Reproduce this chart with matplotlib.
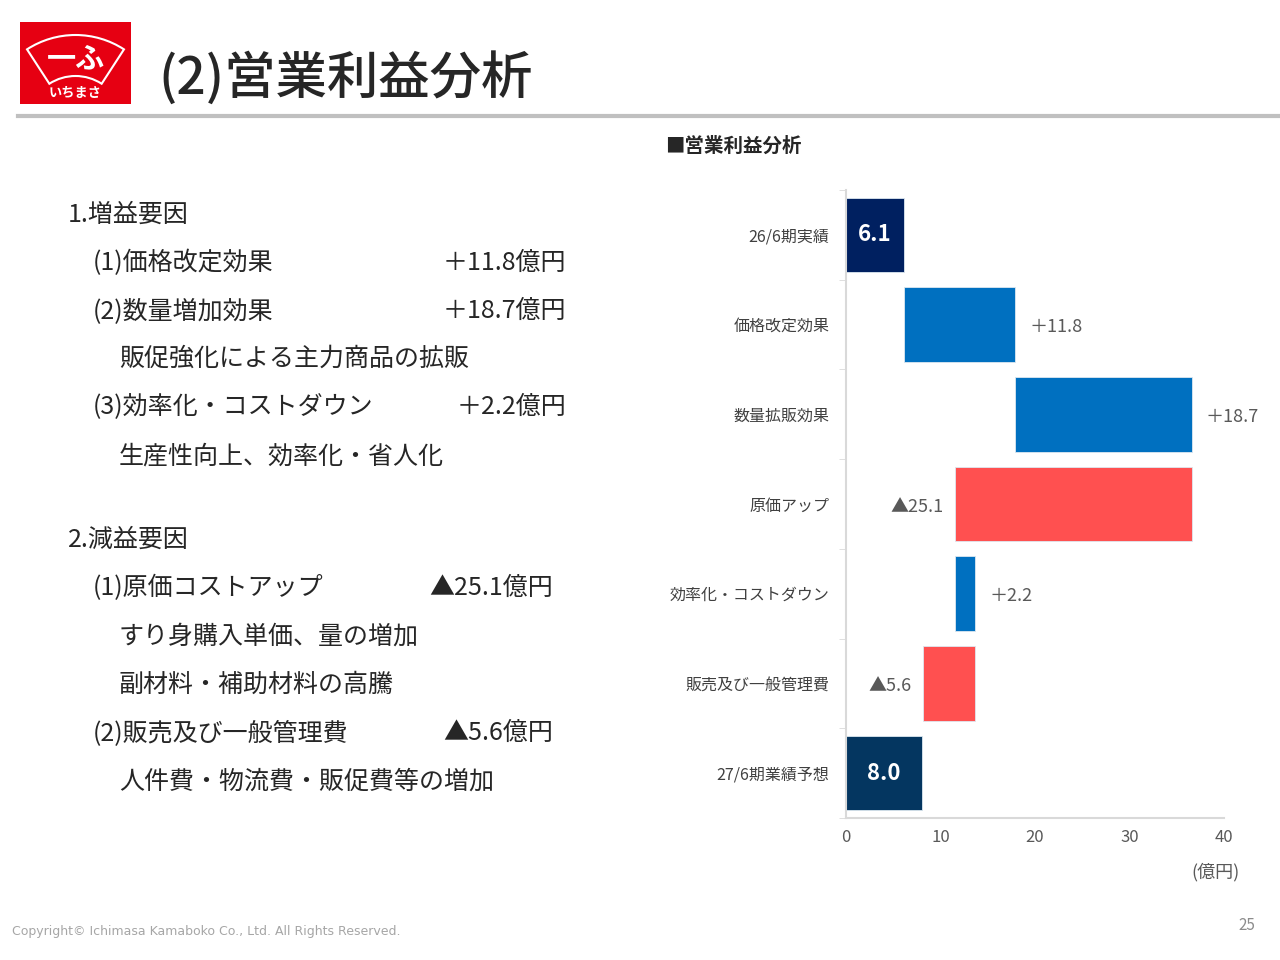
import numpy as np
import matplotlib.pyplot as plt
from matplotlib.patches import Wedge
from matplotlib.lines import Line2D

plt.rcParams['font.family'] = ['Noto Sans CJK JP', 'DejaVu Sans']

# data
categories = ['26/6期実績', '価格改定効果', '数量拡販効果', '原価アップ',
              '効率化・コストダウン', '販売及び一般管理費', '27/6期業績予想']
start_value = 6.1
deltas = [11.8, 18.7, -25.1, 2.2, -5.6]
end_value = 8.0
xticks = [0, 10, 20, 30, 40]

left_lines = [
    ('1.増益要因', '', 0),
    ('(1)価格改定効果', '＋11.8億円', 1),
    ('(2)数量増加効果', '＋18.7億円', 1),
    ('販促強化による主力商品の拡販', '', 2),
    ('(3)効率化・コストダウン', '＋2.2億円', 1),
    ('生産性向上、効率化・省人化', '', 2),
    ('2.減益要因', '', 0),
    ('(1)原価コストアップ', '▲25.1億円', 1),
    ('すり身購入単価、量の増加', '', 2),
    ('副材料・補助材料の高騰', '', 2),
    ('(2)販売及び一般管理費', '▲5.6億円', 1),
    ('人件費・物流費・販促費等の増加', '', 2),
]
left_y = [215, 263, 311, 359, 407, 456, 540, 588, 637, 685, 733, 782]
value_right = [0, 566, 566, 0, 566, 0, 0, 553, 0, 0, 553, 0]

W, H = 1280, 960
fig = plt.figure(figsize=(12.8, 9.6), dpi=100)


def fx(px):
    return px / W


def fy(py):
    return 1 - py / H


# logo
lax = fig.add_axes([fx(20), fy(104), fx(111), 82 / H])
lax.set_facecolor('#e60012')
lax.set_xlim(0, 111)
lax.set_ylim(0, 82)
lax.set_xticks([])
lax.set_yticks([])
for s in lax.spines.values():
    s.set_visible(False)
lax.add_patch(Wedge((55.5, -20), 89, 57, 123, width=41, fill=False,
                    edgecolor='white', lw=1.5))
lax.text(55.5, 46, '一ふ', color='white', fontsize=21, fontweight='bold',
         ha='center', va='center')
lax.text(55.5, 11, 'いちまさ', color='white', fontsize=9.5, fontweight='bold',
         ha='center', va='center')

# title
fig.text(fx(158), fy(78), '(2)営業利益分析', fontsize=37, fontweight='medium',
         color='#262626', ha='left', va='center')
fig.add_artist(Line2D([fx(18), 1.0], [fy(116), fy(116)],
                      transform=fig.transFigure, color='#c0c0c0', lw=3))

# left text
for (txt, val, lvl), y, xr in zip(left_lines, left_y, value_right):
    x = {0: 68, 1: 93, 2: 119}[lvl]
    fig.text(fx(x), fy(y), txt, fontsize=18, color='#262626',
             ha='left', va='center')
    if val:
        fig.text(fx(xr), fy(y), val, fontsize=18, color='#262626',
                 ha='right', va='center')

# chart
fig.text(fx(665), fy(146), '■営業利益分析', fontsize=14, fontweight='bold',
         color='#262626', ha='left', va='center')

ax = fig.add_axes([fx(846), fy(818), fx(378), (818 - 190) / H])

lefts = [0]
widths = [start_value]
level = start_value
for d in deltas:
    lefts.append(min(level, level + d))
    widths.append(abs(d))
    level += d
lefts.append(0)
widths.append(end_value)

colors = ['#002060'] + ['#0070c0' if d > 0 else '#ff5050' for d in deltas] + ['#043660']
ypos = np.arange(len(categories))
ax.barh(ypos, widths, left=lefts, height=0.83, color=colors,
        edgecolor='#dde8f0', linewidth=0.6)

# labels
ax.text(start_value / 2, 0, f'{start_value:.1f}', color='white', fontsize=16,
        fontweight='bold', ha='center', va='center')
ax.text(end_value / 2, len(categories) - 1, f'{end_value:.1f}', color='white',
        fontsize=16, fontweight='bold', ha='center', va='center')
for i, d in enumerate(deltas, start=1):
    if d > 0:
        ax.annotate(f'＋{d:.1f}', (lefts[i] + widths[i], i), xytext=(10, -2),
                    textcoords='offset points', ha='left', va='center',
                    fontsize=13, color='#595959')
    else:
        ax.annotate(f'▲{abs(d):.1f}', (lefts[i], i), xytext=(-8, -2),
                    textcoords='offset points', ha='right', va='center',
                    fontsize=13, color='#595959')

ax.set_xlim(0, 40)
ax.set_ylim(len(categories) - 0.5, -0.5)
ax.set_yticks(ypos)
ax.set_yticklabels(categories)
ax.set_yticks(np.arange(-0.5, len(categories), 1), minor=True)
ax.tick_params(axis='y', which='major', length=0, pad=12, labelsize=11.5,
               labelcolor='#404040')
ax.tick_params(axis='y', which='minor', length=5, color='#d9d9d9')
ax.set_xticks(xticks)
ax.tick_params(axis='x', length=0, pad=8, labelsize=12, labelcolor='#595959')
for s in ['top', 'right']:
    ax.spines[s].set_visible(False)
for s in ['left', 'bottom']:
    ax.spines[s].set_color('#d9d9d9')
    ax.spines[s].set_linewidth(1.5)

fig.text(fx(1240), fy(872), '(億円)', fontsize=13, color='#595959',
         ha='right', va='center')

# footer
fig.text(fx(12), fy(932), 'Copyright© Ichimasa Kamaboko Co., Ltd. All Rights Reserved.',
         fontsize=9, color='#a6a6a6', ha='left', va='center', family='DejaVu Sans')
fig.text(fx(1255), fy(926), '25', fontsize=11, color='#8c8c8c',
         ha='right', va='center')

fig.savefig('out.png', dpi=100)
